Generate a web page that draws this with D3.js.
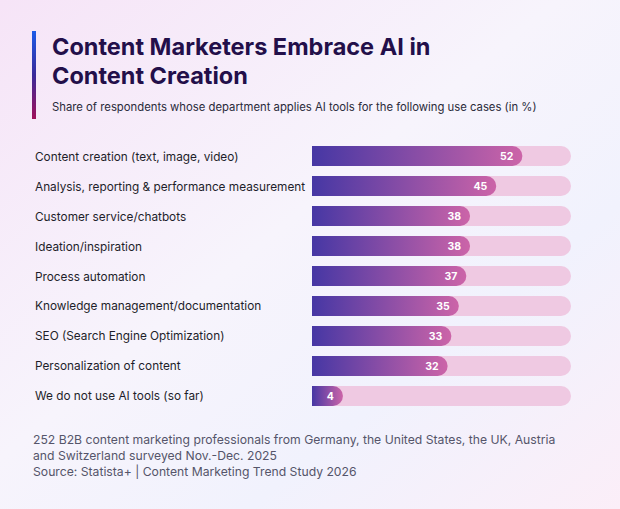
<!DOCTYPE html>
<html><head><meta charset="utf-8">
<script src="https://cdn.jsdelivr.net/npm/d3@7"></script>
<style>body{margin:0}svg{display:block;font-family:Inter,sans-serif}</style>
</head><body><div id="chart"></div>
<script>
const categories = ['Content creation (text, image, video)', 'Analysis, reporting & performance measurement', 'Customer service/chatbots', 'Ideation/inspiration', 'Process automation', 'Knowledge management/documentation', 'SEO (Search Engine Optimization)', 'Personalization of content', 'We do not use AI tools (so far)']
const values = [52, 45, 38, 38, 37, 35, 33, 32, 4]

const width = 620, height = 509
const svg = d3.select('#chart').append('svg').attr('width', width).attr('height', height)
const defs = svg.append('defs')

// Background
const bg = defs.append('linearGradient').attr('id', 'bg').attr('x1', 0).attr('y1', 0).attr('x2', 1).attr('y2', 1)
bg.append('stop').attr('offset', 0).attr('stop-color', '#f6e4f7')
bg.append('stop').attr('offset', 0.45).attr('stop-color', '#f7f4fc')
bg.append('stop').attr('offset', 0.7).attr('stop-color', '#f1f2fd')
bg.append('stop').attr('offset', 1).attr('stop-color', '#fbeef8')
svg.append('rect').attr('width', width).attr('height', height).attr('fill', 'url(#bg)')

// Accent bar
const acc = defs.append('linearGradient').attr('id', 'acc').attr('x1', 0).attr('y1', 0).attr('x2', 0).attr('y2', 1)
acc.append('stop').attr('offset', 0).attr('stop-color', '#1d5be8')
acc.append('stop').attr('offset', 0.5).attr('stop-color', '#3a2a9a')
acc.append('stop').attr('offset', 1).attr('stop-color', '#a0105a')
svg.append('rect').attr('x', 32).attr('y', 31).attr('width', 4).attr('height', 88).attr('fill', 'url(#acc)')

svg.append('text').attr('x', 52).attr('y', 55).attr('font-size', 23.5).attr('font-weight', 700).attr('fill', '#230f4a').text('Content Marketers Embrace AI in')
svg.append('text').attr('x', 52).attr('y', 84).attr('font-size', 23.5).attr('font-weight', 700).attr('fill', '#230f4a').text('Content Creation')
svg.append('text').attr('x', 52).attr('y', 111).attr('font-size', 11.3).attr('fill', '#2a2a3a').text('Share of respondents whose department applies AI tools for the following use cases (in %)')

// Scales
const x0 = 312, trackW = 259, barH = 20
const x = d3.scaleLinear().domain([0, 65]).range([16, trackW])
const y = d3.scaleBand().domain(categories).range([146, 406]).paddingInner(0.33).paddingOuter(0)

const barPath = w => `M0,0H${w - barH / 2}A${barH / 2},${barH / 2} 0 0 1 ${w - barH / 2},${barH}H0Z`

const g = svg.append('g').attr('transform', `translate(${x0},0)`)
categories.forEach((c, i) => {
  const w = x(values[i])
  const gr = defs.append('linearGradient').attr('id', 'bar' + i)
    .attr('gradientUnits', 'userSpaceOnUse').attr('x1', 0).attr('x2', w).attr('y1', 0).attr('y2', 0)
  gr.append('stop').attr('offset', 0).attr('stop-color', '#4637a4')
  gr.append('stop').attr('offset', 1).attr('stop-color', '#cc64a8')
  const cy = y(c) + y.bandwidth() / 2
  const row = g.append('g').attr('transform', `translate(0,${cy - barH / 2})`)
  row.append('path').attr('d', barPath(trackW)).attr('fill', '#efc9e2')
  row.append('path').attr('d', barPath(w)).attr('fill', `url(#bar${i})`)
  row.append('text').attr('x', w - 9).attr('y', barH / 2 + 4).attr('text-anchor', 'end')
    .attr('font-size', 10.5).attr('font-weight', 700).attr('fill', '#fff').text(values[i])
  svg.append('text').attr('x', 35).attr('y', cy + 4.5)
    .attr('font-size', 11.8).attr('fill', '#1e1e2a').text(c)
})

const notes = ['252 B2B content marketing professionals from Germany, the United States, the UK, Austria', 'and Switzerland surveyed Nov.-Dec. 2025', 'Source: Statista+ | Content Marketing Trend Study 2026']
notes.forEach((t, i) => svg.append('text').attr('x', 33).attr('y', 444 + i * 16).attr('font-size', 12.2).attr('fill', '#55556a').text(t))
</script></body></html>
